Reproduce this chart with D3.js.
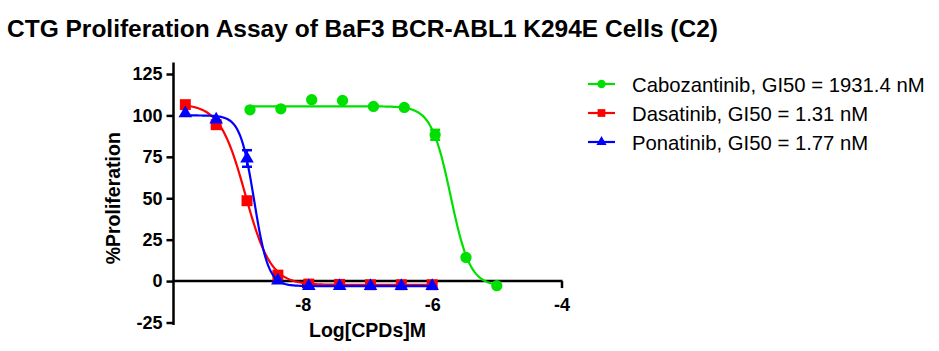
<!DOCTYPE html>
<html>
<head>
<meta charset="utf-8">
<script src="https://cdn.jsdelivr.net/npm/d3@7"></script>
<style>
  body { margin: 0; background: #fff; }
  svg { font-family: "Liberation Sans", Arial, sans-serif; }
</style>
</head>
<body>
<div id="myChart"></div>
<script>
// Dose points (log10 molar), 3-fold dilutions
var caboX = [-8.817, -8.340, -7.863, -7.386, -6.908, -6.431, -5.954, -5.477, -5.0];
var caboY = [103.4, 104.0, 109.5, 109.0, 105.4, 104.8, 88.3, 14.3, -2.8];
var caboErr = [0, 0, 0, 0, 0, 0, 3.0, 0, 0];

var dasaX = [-9.817, -9.340, -8.863, -8.386, -7.908, -7.431, -6.954, -6.477, -6.0];
var dasaY = [106.5, 94.4, 48.5, 3.6, -1.8, -2.0, -2.2, -2.2, -2.2];
var dasaErr = [0, 0, 1.8, 0, 0, 0, 0, 0, 0];

var ponaX = [-9.817, -9.340, -8.863, -8.386, -7.908, -7.431, -6.954, -6.477, -6.0];
var ponaY = [101.2, 97.5, 74.0, 0.3, -3.0, -3.0, -3.0, -3.0, -3.0];
var ponaErr = [0, 0, 5.0, 0, 0, 0, 0, 0, 0];

// 4PL fit parameters: [top, bottom, logGI50, hill]
var caboFit = [105.5, -3.0, -5.714, 2.9];
var dasaFit = [107.0, -2.3, -8.89, 2.2];
var ponaFit = [100.0, -3.0, -8.752, 4.0];

var seriesNames = ["Cabozantinib, GI50 = 1931.4 nM", "Dasatinib, GI50 = 1.31 nM", "Ponatinib, GI50 = 1.77 nM"];
var seriesColors = ["#00e000", "#ff0000", "#0000ff"];

var yTicks = [-25, 0, 25, 50, 75, 100, 125];
var xTicks = [-8, -6, -4];

var width = 939;
var height = 351;

var canvass = d3.select("#myChart")
  .append("svg")
  .attr("width", width)
  .attr("height", height);

var xScale = d3.scaleLinear().domain([-10, -4]).range([173.5, 561.5]);
var yScale = d3.scaleLinear().domain([-25, 125]).range([322.5, 74]);

// plain hyphen minus like the original
var fmt = function(d) { return String(d); };

// title
canvass.append("text")
  .attr("x", 7)
  .attr("y", 37)
  .attr("font-size", 23)
  .attr("font-weight", "bold")
  .attr("textLength", 711)
  .attr("lengthAdjust", "spacingAndGlyphs")
  .text("CTG Proliferation Assay of BaF3 BCR-ABL1 K294E Cells (C2)");

// y axis
var yAxis = canvass.append("g")
  .attr("transform", "translate(" + xScale(-10) + ",0)")
  .call(d3.axisLeft(yScale).tickValues(yTicks).tickFormat(fmt).tickSize(7).tickPadding(4));
yAxis.select(".domain").remove();
yAxis.append("line")
  .attr("x1", 0).attr("x2", 0)
  .attr("y1", yScale(132)).attr("y2", yScale(-26.5))
  .attr("stroke", "#000").attr("stroke-width", 2.5);
yAxis.selectAll(".tick line").attr("stroke-width", 2.5);
yAxis.selectAll("text")
  .attr("font-size", 18)
  .attr("font-weight", "bold")
  .attr("fill", "#000")
  .attr("font-family", "Liberation Sans, Arial, sans-serif");

// x axis at y = 0
var xAxis = canvass.append("g")
  .attr("transform", "translate(0," + yScale(0) + ")")
  .call(d3.axisBottom(xScale).tickValues(xTicks).tickFormat(fmt).tickSize(7).tickPadding(10));
xAxis.select(".domain").remove();
xAxis.append("line")
  .attr("x1", xScale(-10) - 1).attr("x2", xScale(-4) + 1)
  .attr("y1", 0).attr("y2", 0)
  .attr("stroke", "#000").attr("stroke-width", 2.5);
xAxis.selectAll(".tick line").attr("stroke-width", 2.5);
xAxis.selectAll("text")
  .attr("font-size", 18)
  .attr("font-weight", "bold")
  .attr("fill", "#000")
  .attr("font-family", "Liberation Sans, Arial, sans-serif");

// axis labels
canvass.append("text")
  .attr("transform", "translate(120," + yScale(50) + ") rotate(-90)")
  .attr("text-anchor", "middle")
  .attr("font-size", 19.5)
  .attr("font-weight", "bold")
  .text("%Proliferation");

canvass.append("text")
  .attr("x", (xScale(-10) + xScale(-4)) / 2)
  .attr("y", 337)
  .attr("text-anchor", "middle")
  .attr("font-size", 19.5)
  .attr("font-weight", "bold")
  .text("Log[CPDs]M");

// curves + points
function logistic(p, x) {
  return p[1] + (p[0] - p[1]) / (1 + Math.pow(10, (x - p[2]) * p[3]));
}

var series = [
  { xs: caboX, ys: caboY, err: caboErr, fit: caboFit, sym: d3.symbolCircle, size: 100 },
  { xs: dasaX, ys: dasaY, err: dasaErr, fit: dasaFit, sym: d3.symbolSquare, size: 120 },
  { xs: ponaX, ys: ponaY, err: ponaErr, fit: ponaFit, sym: d3.symbolTriangle, size: 80 }
];

var line = d3.line()
  .x(function(d) { return xScale(d[0]); })
  .y(function(d) { return yScale(d[1]); });

var plotGrp = canvass.append("g");

series.forEach(function(s, k) {
  var lo = d3.min(s.xs), hi = d3.max(s.xs);
  var curve = d3.range(0, 201).map(function(i) {
    var x = lo + (hi - lo) * i / 200;
    return [x, logistic(s.fit, x)];
  });
  var g = plotGrp.append("g");
  g.append("path")
    .attr("d", line(curve))
    .attr("fill", "none")
    .attr("stroke", seriesColors[k])
    .attr("stroke-width", 2.2);

  // error bars
  s.xs.forEach(function(x, i) {
    if (s.err[i] > 0) {
      var cx = xScale(x);
      var y1 = yScale(s.ys[i] + s.err[i]);
      var y2 = yScale(s.ys[i] - s.err[i]);
      g.append("line").attr("x1", cx).attr("x2", cx).attr("y1", y1).attr("y2", y2)
        .attr("stroke", seriesColors[k]).attr("stroke-width", 2);
      [y1, y2].forEach(function(yy) {
        g.append("line").attr("x1", cx - 5).attr("x2", cx + 5).attr("y1", yy).attr("y2", yy)
          .attr("stroke", seriesColors[k]).attr("stroke-width", 2.5);
      });
    }
  });

  g.selectAll(".pt")
    .data(s.xs)
    .enter()
    .append("path")
    .attr("d", d3.symbol().type(s.sym).size(s.size))
    .attr("transform", function(d, i) {
      return "translate(" + xScale(d) + "," + yScale(s.ys[i]) + ")";
    })
    .attr("fill", seriesColors[k]);
});

// legend
var legendY = [84, 113, 142];
var legendSym = [d3.symbolCircle, d3.symbolSquare, d3.symbolTriangle];
var legendSize = [55, 60, 45];
var legend = canvass.append("g");
seriesNames.forEach(function(name, k) {
  var row = legend.append("g").attr("transform", "translate(0," + legendY[k] + ")");
  row.append("line")
    .attr("x1", 588).attr("x2", 615).attr("y1", 0).attr("y2", 0)
    .attr("stroke", seriesColors[k]).attr("stroke-width", 2.2);
  row.append("path")
    .attr("d", d3.symbol().type(legendSym[k]).size(legendSize[k]))
    .attr("transform", "translate(601.5,0)")
    .attr("fill", seriesColors[k]);
  row.append("text")
    .attr("x", 632)
    .attr("y", 7.5)
    .attr("font-size", 20.3)
    .text(name);
});
</script>
</body>
</html>
